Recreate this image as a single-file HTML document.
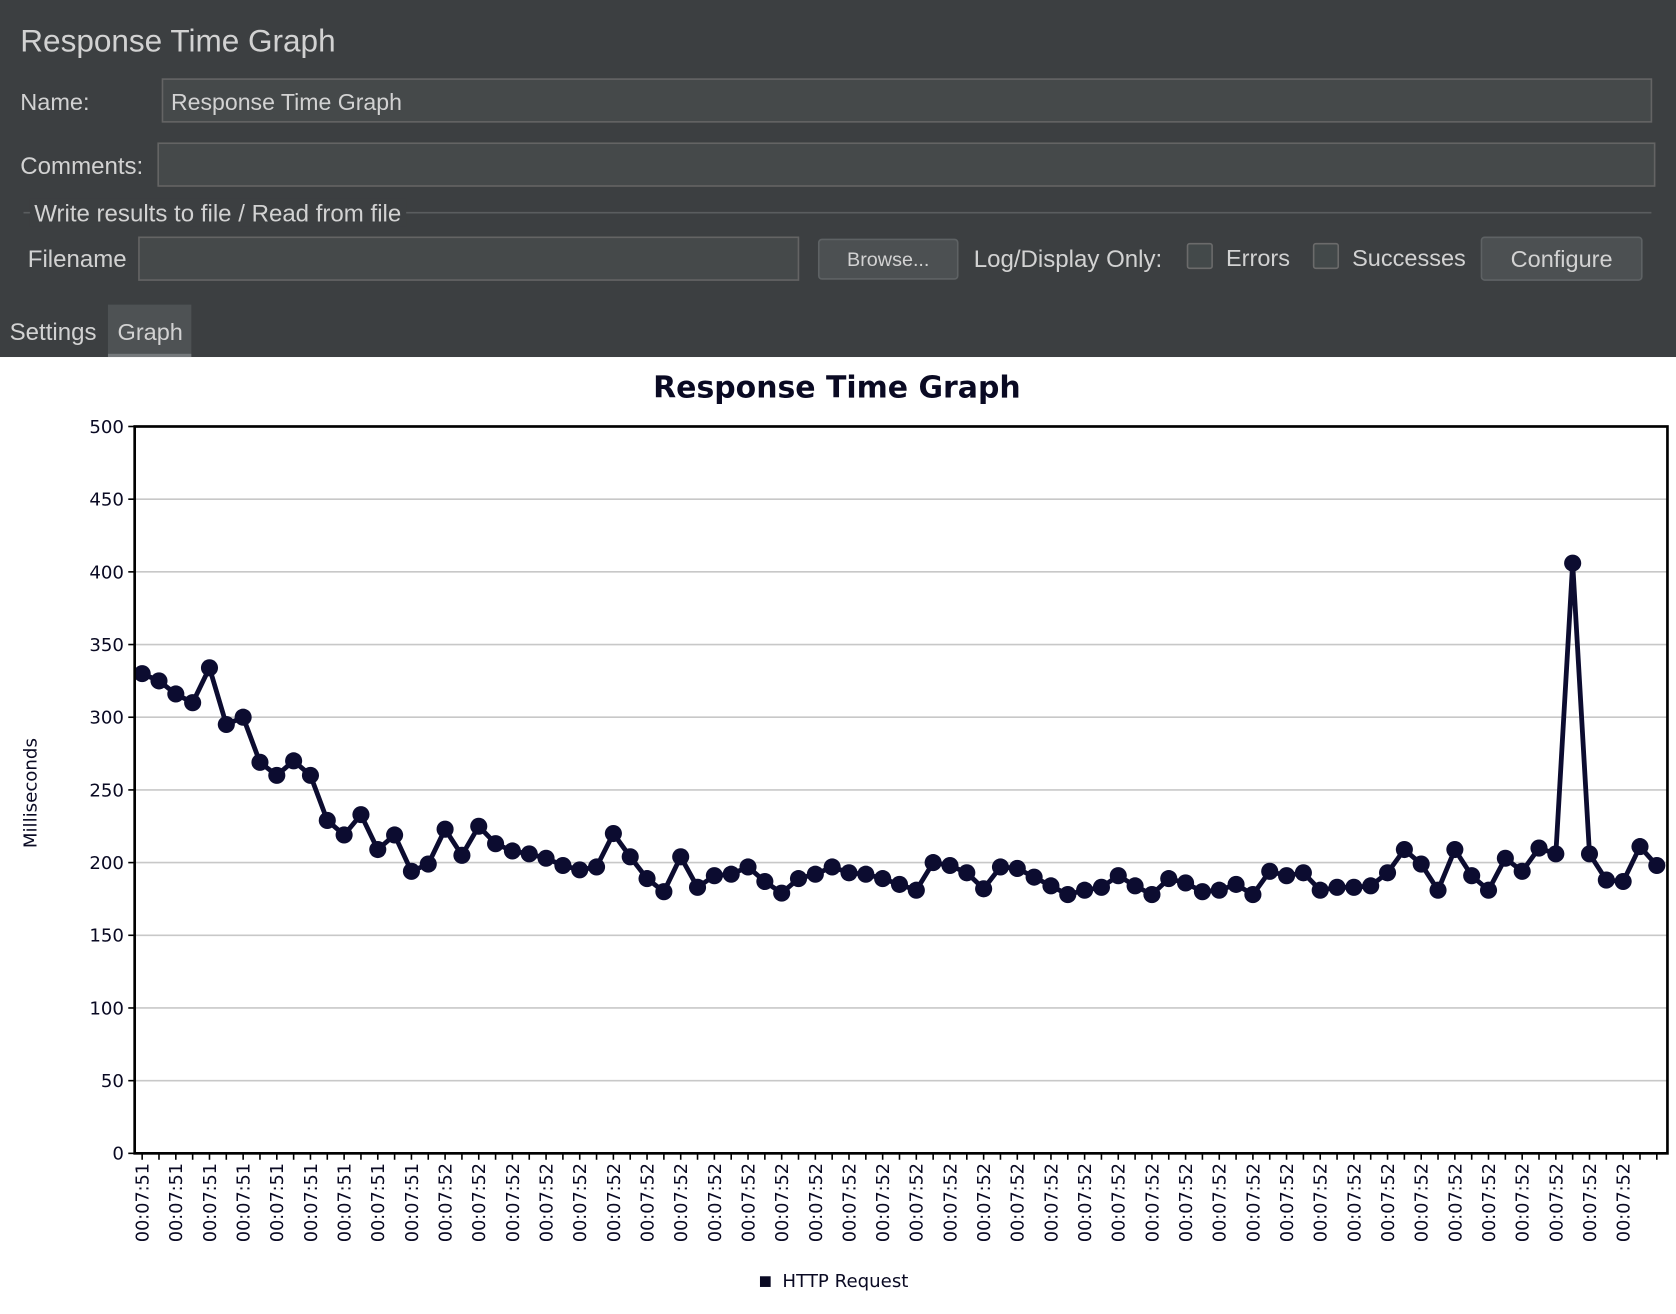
<!DOCTYPE html>
<html><head><meta charset="utf-8"><style>
html,body{margin:0;padding:0;background:#fff;width:1676px;height:1314px;overflow:hidden}
svg{display:block}
.h{font-family:"Liberation Sans",sans-serif;fill:#d2d2d2}
.c{font-family:"DejaVu Sans","Liberation Sans",sans-serif;fill:#0a0a23}
</style></head><body>
<svg id="root" width="1676" height="1314" viewBox="0 0 1568 1229.3" preserveAspectRatio="none" xmlns="http://www.w3.org/2000/svg">
<rect x="0" y="0" width="1568" height="334" fill="#3c3f41"/>
<text class="h" x="19" y="48" font-size="29.5">Response Time Graph</text>
<text class="h" x="19" y="103" font-size="22">Name:</text>
<rect x="152" y="74" width="1393" height="40" fill="#45494a" stroke="#646464" stroke-width="1.5"/>
<text class="h" x="160" y="103" font-size="21.6">Response Time Graph</text>
<text class="h" x="19" y="163" font-size="22.5">Comments:</text>
<rect x="148" y="134" width="1400" height="40" fill="#45494a" stroke="#646464" stroke-width="1.5"/>
<line x1="22" y1="199" x2="1545" y2="199" stroke="#5a5d5f" stroke-width="1.5"/>
<rect x="28" y="186" width="352" height="26" fill="#3c3f41"/>
<text class="h" x="32" y="207" font-size="22.5">Write results to file / Read from file</text>
<text class="h" x="26" y="250" font-size="22.5">Filename</text>
<rect x="130" y="222" width="617" height="40" fill="#45494a" stroke="#646464" stroke-width="1.5"/>
<rect x="766" y="224" width="130" height="37" rx="3" fill="#4c5052" stroke="#5e6264" stroke-width="1.5"/>
<text class="h" x="831" y="249" font-size="18.5" text-anchor="middle">Browse...</text>
<text class="h" x="911" y="250" font-size="22.5">Log/Display Only:</text>
<rect x="1111" y="228" width="23" height="23" rx="2" fill="#43494a" stroke="#6b6b6b" stroke-width="1.5"/>
<text class="h" x="1147" y="249" font-size="22">Errors</text>
<rect x="1229" y="228" width="23" height="23" rx="2" fill="#43494a" stroke="#6b6b6b" stroke-width="1.5"/>
<text class="h" x="1265" y="249" font-size="22">Successes</text>
<rect x="1386" y="222" width="150" height="40" rx="3" fill="#4c5052" stroke="#5e6264" stroke-width="1.5"/>
<text class="h" x="1461" y="250" font-size="22" text-anchor="middle">Configure</text>
<text class="h" x="9" y="318" font-size="22.5">Settings</text>
<rect x="101" y="285" width="78" height="49" fill="#4e5254"/>
<rect x="101" y="331" width="78" height="3" fill="#75797c"/>
<text class="h" x="110" y="318" font-size="22" fill="#e6e6e6">Graph</text>
<text class="c" x="783" y="372" font-size="28" font-weight="bold" text-anchor="middle" fill="#000">Response Time Graph</text>
<text class="c" font-size="17" text-anchor="middle" transform="translate(34,742) rotate(-90)">Milliseconds</text>
<g id="grid"></g><g id="yt"></g><g id="xt"></g><g id="series"></g>
<rect x="126" y="399" width="1434" height="680" fill="none" stroke="#000" stroke-width="2.5"/>
<rect x="711" y="1194" width="10" height="10" fill="#0a0a23"/>
<text class="c" x="732" y="1204" font-size="17">HTTP Request</text>
</svg>
<script>
const values = [330,325,316,310,334,295,300,269,260,270,260,229,219,233,209,219,194,199,223,205,225,213,208,206,203,198,195,197,220,204,189,180,204,183,191,192,197,187,179,189,192,197,193,192,189,185,181,200,198,193,182,197,196,190,184,178,181,183,191,184,178,189,186,180,181,185,178,194,191,193,181,183,183,184,193,209,199,181,209,191,181,203,194,210,206,406,206,188,187,211,198];
const yTicks = [0,50,100,150,200,250,300,350,400,450,500];
const timeLabels = values.map((v,i)=> i<18 ? "00:07:51" : "00:07:52");
const NS="http://www.w3.org/2000/svg";
const x0=133, step=15.745, plotTop=399, plotBot=1079, ymax=500;
const xs=i=>x0+i*step, ys=v=>plotBot-(v/ymax)*(plotBot-plotTop);
function mk(tag,attrs,parent){const e=document.createElementNS(NS,tag);for(const k in attrs)e.setAttribute(k,attrs[k]);document.getElementById(parent).appendChild(e);return e;}
yTicks.forEach(t=>{
  if(t>0&&t<500){const g=mk('line',{x1:126,x2:1560,y1:ys(t),y2:ys(t),stroke:'#c8c8c8','stroke-width':1.5},'grid');
  
  }
  const tk=mk('line',{x1:120,x2:126,y1:ys(t),y2:ys(t),stroke:'#000','stroke-width':1.5},'yt');
  
  
  const tx=mk('text',{x:116,y:ys(t)+6,'font-size':17,'text-anchor':'end',class:'c'},'yt');
  tx.textContent=t;
  
  
});
for(let i=0;i*step+x0<1560;i++){
  const x=xs(i);
  const tk=mk('line',{x1:x,x2:x,y1:1079,y2:1085,stroke:'#000','stroke-width':1.5},'xt');
  
  
  if(i%2===0&&i<=88&&i<timeLabels.length){
    const tx=mk('text',{'font-size':16.5,'text-anchor':'end',class:'c',transform:`translate(${x+6},1088) rotate(-90)`},'xt');
    tx.textContent=timeLabels[i];
    
    
  }
}
const pl=mk('polyline',{points:values.map((v,i)=>xs(i)+','+ys(v)).join(' '),fill:'none',stroke:'#0c0c30','stroke-width':4.5,'stroke-linejoin':'round'},'series');


values.forEach((v,i)=>{
  const c=mk('circle',{cx:xs(i),cy:ys(v),r:8,fill:'#0c0c30'},'series');
  
  
});
document.querySelector('rect[x="28"][y="186"]').setAttribute('width','352');
</script>
</body></html>
